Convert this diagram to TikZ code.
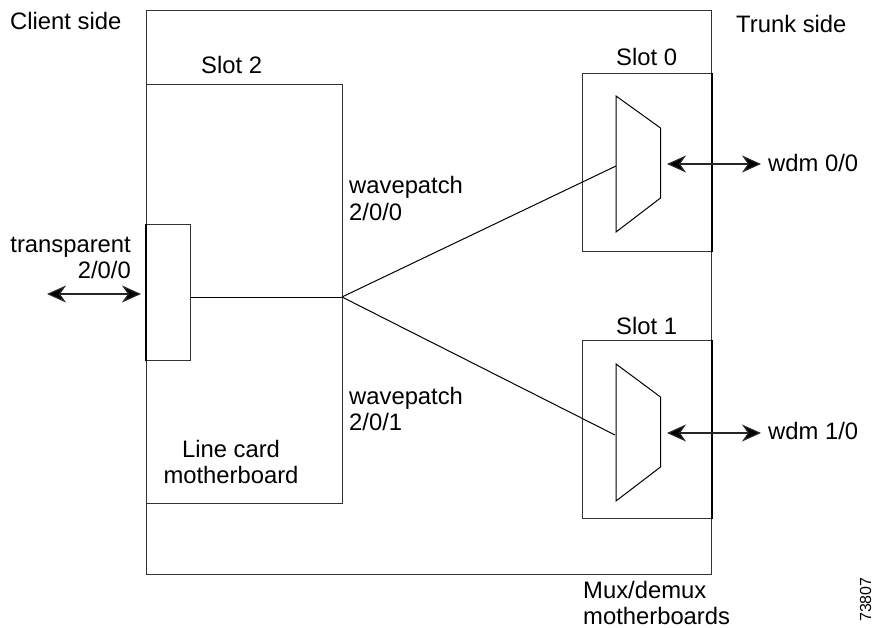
\documentclass[tikz,border=0pt]{standalone}
\usepackage{fontspec}
\setmainfont{Liberation Sans}
\usetikzlibrary{arrows.meta}
\tikzset{
  box/.style={draw=black!80,line width=0.9pt},
  thick edge/.style={draw=black,line width=2pt},
  wire/.style={draw=black,line width=1pt},
  biarrow/.style={draw=black!85,line width=1.2pt,{Stealth[length=19pt,width=17pt,inset=6pt,fill=black]}-{Stealth[length=19pt,width=17pt,inset=6pt,fill=black]}},
  lbl/.style={inner sep=0pt,font=\fontsize{23.8}{28}\selectfont,text=black,align=left}
}
\begin{document}
\begin{tikzpicture}[x=1pt,y=-1pt]
\useasboundingbox (0,0) rectangle (874,628);
% boxes
\node[box,minimum width=565pt,minimum height=564pt,inner sep=0pt,anchor=north west] (outer) at (146,10) {};
\node[box,minimum width=196pt,minimum height=419pt,inner sep=0pt,anchor=north west] (card) at (146,84) {};
\node[box,minimum width=44pt,minimum height=136pt,inner sep=0pt,anchor=north west] (port) at (146,224) {};
\node[box,minimum width=129pt,minimum height=178pt,inner sep=0pt,anchor=north west] (slot0) at (582,73) {};
\node[box,minimum width=129pt,minimum height=178pt,inner sep=0pt,anchor=north west] (slot1) at (582,340) {};
% heavy edges
\draw[thick edge] (port.north west) -- (port.south west);
\draw[thick edge] (slot0.north east) -- (slot0.south east);
\draw[thick edge] (slot1.north east) -- (slot1.south east);
% mux trapezoids
\draw[wire,line join=miter] (616,96) -- (660.5,128) -- (660.5,198) -- (616,232) -- cycle;
\draw[wire,line join=miter] (616,364) -- (660.5,397) -- (660.5,467) -- (616,501) -- cycle;
% connectors
\coordinate (portout) at (190,297);
\coordinate (junction) at (342,297);
\coordinate (mux0in) at (616,166);
\coordinate (mux1in) at (615,435);
\draw[wire] (portout) -- (junction);
\draw[wire] (junction) -- (mux0in);
\draw[wire] (junction) -- (mux1in);
% arrows
\coordinate (a1) at (47,294); \coordinate (a2) at (141,294);
\coordinate (b1) at (667,164); \coordinate (b2) at (761,164);
\coordinate (c1) at (667,433); \coordinate (c2) at (761,433);
\draw[biarrow] (a1) -- (a2);
\draw[biarrow] (b1) -- (b2);
\draw[biarrow] (c1) -- (c2);
% labels
\node[lbl,anchor=base west] (t1) at (10,30) {Client side};
\node[lbl,anchor=base west] (t2) at (736,33) {Trunk side};
\node[lbl,anchor=base west] (t3) at (201,74) {Slot 2};
\node[lbl,anchor=base west] (t4) at (616,66) {Slot 0};
\node[lbl,anchor=base west] (t5) at (616,334) {Slot 1};
\node[lbl,anchor=base east] (t6) at (131,252) {transparent};
\node[lbl,anchor=base east] (t7) at (131,278) {2/0/0};
\node[lbl,anchor=base west] (t8) at (349,194) {wavepatch};
\node[lbl,anchor=base west] (t9) at (349,220) {2/0/0};
\node[lbl,anchor=base west] (t10) at (349,404) {wavepatch};
\node[lbl,anchor=base west] (t11) at (349,430) {2/0/1};
\node[lbl,anchor=base] (t12) at (231,457) {Line card};
\node[lbl,anchor=base] (t13) at (231,483) {motherboard};
\node[lbl,anchor=base west] (t14) at (768,172) {wdm 0/0};
\node[lbl,anchor=base west] (t15) at (768,439) {wdm 1/0};
\node[lbl,anchor=base west] (t16) at (583,598) {Mux/demux};
\node[lbl,anchor=base west] (t17) at (583,624) {motherboards};
\node[inner sep=0pt,font=\fontsize{16}{18}\selectfont,rotate=90,anchor=base west] (t18) at (871,622) {73807};
\end{tikzpicture}
\end{document}
